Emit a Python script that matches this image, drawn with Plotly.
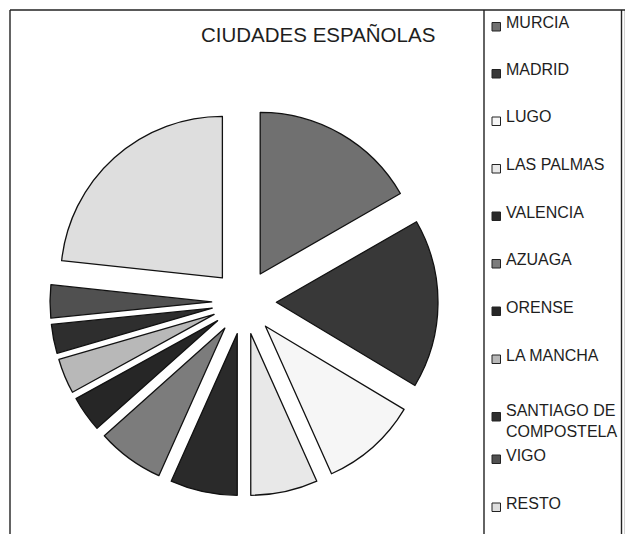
import plotly.graph_objects as go

# slice data, clockwise from 12 o'clock
ciudades = ["MURCIA", "MADRID", "LUGO", "LAS PALMAS", "VALENCIA", "AZUAGA",
            "ORENSE", "LA MANCHA", "SANTIAGO DE COMPOSTELA", "VIGO", "RESTO"]
porcentajes = [16.7, 16.9, 9.7, 6.7, 6.7, 6.7, 3.6, 3.5, 2.9, 3.3, 23.3]
grises = ["#707070", "#383838", "#f6f6f6", "#e8e8e8", "#2a2a2a", "#7c7c7c",
          "#262626", "#b8b8b8", "#2e2e2e", "#505050", "#dedede"]

W, H = 633, 534
OFF = 8  # the page body margin pushes the figure 8px right and down


def px_x(x):
    return (x - OFF) / W


def px_y(y):
    return 1 - (y - OFF) / H


fig = go.Figure(go.Pie(
    labels=ciudades,
    values=porcentajes,
    sort=False,
    direction="clockwise",
    rotation=0,
    pull=[0.2] * len(ciudades),
    marker=dict(colors=grises, line=dict(color="#111111", width=1.3)),
    textinfo="none",
    hoverinfo="label+percent",
    showlegend=False,
    domain=dict(x=[px_x(50), px_x(438)], y=[px_y(496), px_y(108)]),
))

shapes = [
    # outer frame (open at the bottom, as in the scan)
    dict(type="line", x0=px_x(10), x1=px_x(10), y0=px_y(10), y1=0),
    dict(type="line", x0=px_x(10), x1=px_x(625.5), y0=px_y(10), y1=px_y(10)),
    dict(type="line", x0=px_x(484), x1=px_x(484), y0=px_y(10), y1=0),
    dict(type="line", x0=px_x(621.5), x1=px_x(621.5), y0=px_y(10), y1=0),
    dict(type="line", x0=px_x(625.5), x1=px_x(625.5), y0=px_y(10), y1=0),
]
for s in shapes:
    s.update(xref="paper", yref="paper", line=dict(color="#222222", width=1.4))

annotations = [dict(
    text="CIUDADES ESPAÑOLAS", x=px_x(317.5), y=px_y(34.5), xref="paper", yref="paper",
    xanchor="center", yanchor="middle", showarrow=False,
    font=dict(family="Liberation Sans, Arial", size=20.5, color="#1e1e1e"),
)]

# hand-made legend on the right
filas = [22.5, 69.5, 117, 164.5, 212, 259.5, 307, 355, 410.5, 455, 503]
for nombre, color, yc in zip(ciudades, grises, filas):
    two = " DE " in nombre
    texto = nombre.replace(" DE ", " DE<br>") if two else nombre
    sq_top = yc + (2 if two else 0)
    shapes.append(dict(
        type="rect", xref="paper", yref="paper",
        x0=px_x(492), x1=px_x(500.5), y0=px_y(sq_top + 8.5), y1=px_y(sq_top),
        fillcolor=color, line=dict(color="#222222", width=1),
    ))
    annotations.append(dict(
        text=texto, x=px_x(504), y=px_y(yc - 11 if two else yc), xref="paper", yref="paper",
        xanchor="left", yanchor="top" if two else "middle", align="left", showarrow=False,
        font=dict(family="Liberation Sans, Arial", size=16, color="#1e1e1e"),
    ))

fig.update_layout(
    width=W, height=H,
    margin=dict(l=0, r=0, t=0, b=0),
    paper_bgcolor="white",
    plot_bgcolor="white",
    shapes=shapes,
    annotations=annotations,
)

fig.write_html("out.html")
